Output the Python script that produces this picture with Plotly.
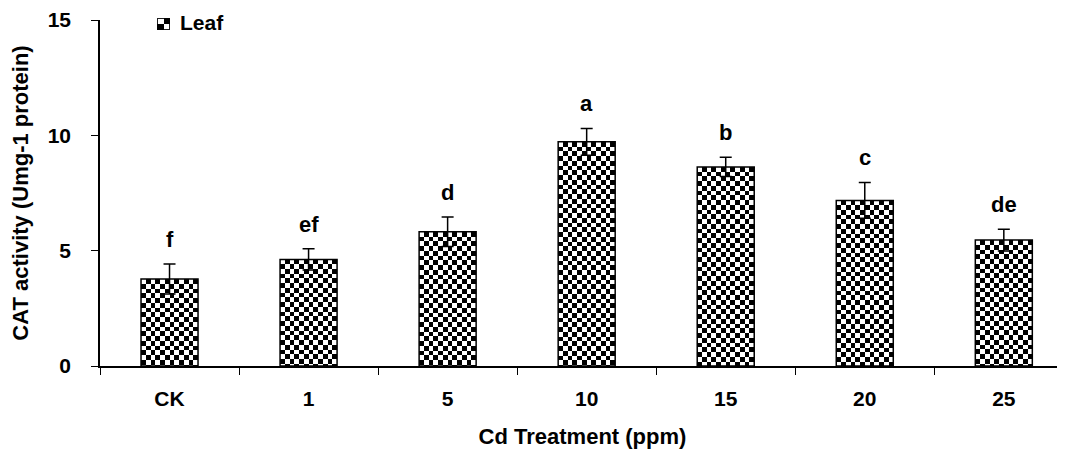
import base64
import math
import plotly.graph_objects as go

# ---- data ----
categories = ["CK", "1", "5", "10", "15", "20", "25"]
cat_activity = [3.77, 4.62, 5.82, 9.72, 8.63, 7.18, 5.46]
std_error = [0.65, 0.46, 0.64, 0.58, 0.42, 0.78, 0.47]
sig_letters = ["f", "ef", "d", "a", "b", "c", "de"]
y_ticks = [0, 5, 10, 15]
series_name = "Leaf"

FONT = "Liberation Sans, Arial, sans-serif"
BAR_W = 0.41
Y_RANGE = [0, 15]
X_RANGE = [-0.5, 6.44]
W, H = 1057, 448
M = dict(l=92, r=0, t=12, b=90)
PLOT_W = W - M["l"] - M["r"]
PLOT_H = H - M["t"] - M["b"]
COLS = 12


def checker_uri(cols, rows, border=False):
    nrows = math.ceil(rows)
    cells = "".join(
        f'<rect x="{c}" y="{r}" width="1" height="1"/>'
        for r in range(nrows) for c in range(cols) if (r + c) % 2 == 1
    )
    extra = ""
    if border:
        extra = (f'<rect x="0.07" y="0.07" width="{cols-0.14}" height="{rows-0.14}" '
                 f'fill="none" stroke="black" stroke-width="0.14"/>')
    svg = (f'<svg xmlns="http://www.w3.org/2000/svg" width="{cols*10}" height="{rows*10:.3f}" '
           f'viewBox="0 0 {cols} {rows:.4f}" preserveAspectRatio="none" shape-rendering="crispEdges">'
           f'<rect width="{cols}" height="{nrows}" fill="white"/>'
           f'<g fill="black">{cells}</g>{extra}</svg>')
    return "data:image/svg+xml;base64," + base64.b64encode(svg.encode()).decode()


px_per_x = PLOT_W / (X_RANGE[1] - X_RANGE[0])
px_per_y = PLOT_H / (Y_RANGE[1] - Y_RANGE[0])
bar_px_w = BAR_W * px_per_x

fig = go.Figure()
fig.add_trace(go.Bar(
    x=categories, y=cat_activity, width=BAR_W, name=series_name,
    marker=dict(color="rgba(0,0,0,0)", line=dict(color="black", width=1.5)),
    error_y=dict(type="data", array=std_error, visible=True, color="black",
                 thickness=1.5, width=6),
    showlegend=False,
))

images = []
for i, v in enumerate(cat_activity):
    rows = COLS * (v * px_per_y) / bar_px_w
    images.append(dict(
        source=checker_uri(COLS, rows), xref="x", yref="y", x=i - BAR_W / 2, y=v,
        sizex=BAR_W, sizey=v, xanchor="left", yanchor="top",
        sizing="stretch", layer="below",
    ))
# legend icon
images.append(dict(
    source=checker_uri(2, 2, border=True), xref="paper", yref="paper",
    x=57 / PLOT_W, y=1 + 2 / PLOT_H, sizex=13 / PLOT_W, sizey=12 / PLOT_H,
    xanchor="left", yanchor="top", sizing="stretch", layer="above",
))

annotations = []
for i, (v, e, t) in enumerate(zip(cat_activity, std_error, sig_letters)):
    annotations.append(dict(
        x=i, y=v + e, xref="x", yref="y", text=t, showarrow=False,
        yanchor="bottom", yshift=10,
        font=dict(family=FONT, size=22, color="black", weight="bold"),
    ))
annotations.append(dict(
    x=78 / PLOT_W, y=1 - 3 / PLOT_H, xref="paper", yref="paper", text=series_name,
    showarrow=False, xanchor="left", yanchor="middle",
    font=dict(family=FONT, size=21, color="black", weight="bold"),
))

fig.update_layout(
    width=W, height=H,
    margin=M,
    paper_bgcolor="white", plot_bgcolor="white",
    images=images, annotations=annotations,
    font=dict(family=FONT, color="black"),
    xaxis=dict(
        type="category", range=X_RANGE,
        showline=True, linecolor="black", linewidth=1.5,
        ticks="outside", tickson="boundaries", ticklen=7, tickwidth=1.2, tickcolor="black",
        ticklabelstandoff=13,
        tickfont=dict(family=FONT, size=21, color="black", weight="bold"),
        showgrid=False, zeroline=False,
        title=dict(text="Cd Treatment (ppm)", standoff=20,
                   font=dict(family=FONT, size=22, color="black", weight="bold")),
    ),
    yaxis=dict(
        range=Y_RANGE, tickvals=y_ticks,
        showline=True, linecolor="black", linewidth=1.5,
        ticks="outside", ticklen=7, tickwidth=1.2, tickcolor="black",
        ticklabelstandoff=16,
        tickfont=dict(family=FONT, size=21, color="black", weight="bold"),
        showgrid=False, zeroline=False,
        title=dict(text="CAT activity (Umg-1 protein)", standoff=13,
                   font=dict(family=FONT, size=22, color="black", weight="bold")),
    ),
)

fig.write_html("out.html")
